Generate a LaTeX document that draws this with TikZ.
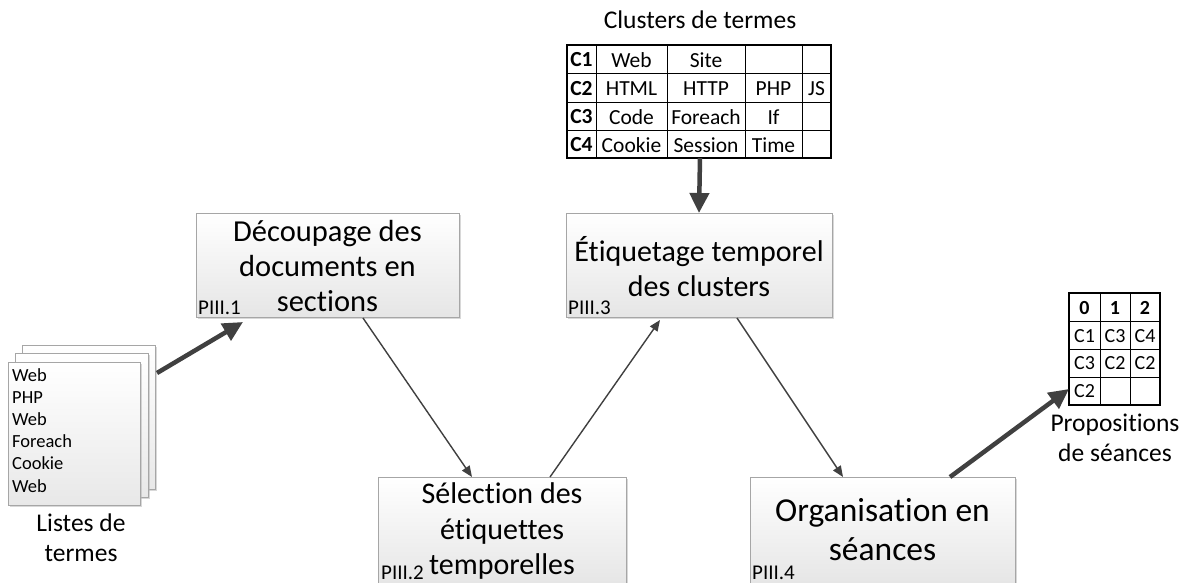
\documentclass[tikz,border=0pt]{standalone}
\usepackage{fontspec}
\setmainfont{Carlito}[RawFeature={-liga;-calt;-clig;-dlig}]
\usetikzlibrary{arrows.meta,shadows,calc}
\definecolor{arr}{HTML}{404040}
\definecolor{bord}{HTML}{A6A6A6}
\tikzset{
  procbox/.style={draw=bord, line width=1pt, top color=white, bottom color=black!10,
    drop shadow={shadow xshift=2pt, shadow yshift=-2pt, fill=black!30, opacity=0.5},
    inner sep=0pt, outer sep=0pt},
  page/.style={draw=bord, line width=0.8pt, top color=white, bottom color=black!9,
    drop shadow={shadow xshift=2pt, shadow yshift=-2pt, fill=black!30, opacity=0.5},
    inner sep=0pt, outer sep=0pt},
  pid/.style={font=\fontsize{21}{22}\selectfont, inner sep=0pt, anchor=base west},
  thick arrow/.style={draw=arr, fill=arr, line width=4.5pt, -{Triangle[length=20pt,width=19pt]}},
  thin arrow/.style={draw=arr, fill=arr, line width=1.4pt, -{Triangle[length=11pt,width=9pt]}},
  cell/.style={font=\fontsize{21.5}{22}\selectfont, inner sep=0pt},
  bcell/.style={font=\fontsize{21.5}{22}\selectfont\bfseries, inner sep=0pt},
  scell/.style={font=\fontsize{20}{22}\selectfont, inner sep=0pt},
  sbcell/.style={font=\fontsize{20}{22}\selectfont\bfseries, inner sep=0pt},
  caption/.style={font=\fontsize{25.5}{30}\selectfont, align=center, inner sep=0pt},
}
\begin{document}
\begin{tikzpicture}[x=1pt,y=-1pt]
\useasboundingbox (0,0) rectangle (1190,582);

% term lists
\node[page, minimum width=133pt, minimum height=144pt, anchor=north west] (pg3) at (22,345) {};
\node[page, minimum width=133pt, minimum height=144pt, anchor=north west] (pg2) at (15,353) {};
\node[page, minimum width=132pt, minimum height=143pt, anchor=north west] (pg1) at (8,362) {};
\node[anchor=north west, align=left, font=\fontsize{18.5}{22.2}\selectfont, inner sep=0pt] (terms) at (12,368)
  {Web\\PHP\\Web\\Foreach\\Cookie\\Web};
\node[caption] (listcap) at (81,538) {Listes de\\termes};

% process boxes
\node[procbox, minimum width=263pt, minimum height=104pt] (p1) at (327.5,265) {};
\node[align=center, font=\fontsize{30.5}{35}\selectfont, inner sep=0pt] (p1t) at (327.5,266) {Découpage des\\documents en\\sections};
\node[pid] (p1id) at (198,314) {PIII.1};

\node[procbox, minimum width=266pt, minimum height=104pt] (p3) at (699,265) {};
\node[align=center, font=\fontsize{30}{35}\selectfont, inner sep=0pt] (p3t) at (699,267) {Étiquetage temporel\\des clusters};
\node[pid] (p3id) at (568,314) {PIII.3};

\node[procbox, minimum width=248pt, minimum height=108pt] (p2) at (502,531) {};
\node[align=center, font=\fontsize{30}{35.5}\selectfont, inner sep=0pt] (p2t) at (502,531) {Sélection des\\étiquettes\\temporelles};
\node[pid] (p2id) at (381,579) {PIII.2};

\node[procbox, minimum width=265pt, minimum height=108pt] (p4) at (882.5,531) {};
\node[align=center, font=\fontsize{33.5}{39}\selectfont, inner sep=0pt] (p4t) at (882.5,530) {Organisation en\\séances};
\node[pid] (p4id) at (752,579) {PIII.4};

% cluster table
\node[caption] (clcap) at (700,20) {Clusters de termes};
\coordinate (ct1) at (567,45);
\coordinate (ct2) at (831,158);
\draw[line width=0.8pt] (596,45) -- (596,158) (667,45) -- (667,158) (745,45) -- (745,158) (802,45) -- (802,158);
\draw[line width=0.8pt] (567,73) -- (831,73) (567,102) -- (831,102) (567,130) -- (831,130);
\draw[line width=2pt] (ct1) rectangle (ct2);
\foreach \r/\y/\a/\b/\c/\d/\e in {1/60/C1/Web/Site//, 2/88.5/C2/HTML/HTTP/PHP/JS, 3/117/C3/Code/Foreach/If/, 4/145/C4/Cookie/Session/Time/}{
  \node[bcell] (c\r a) at (581.5,\y) {\a};
  \node[cell] (c\r b) at (631.5,\y) {\b};
  \node[cell] (c\r c) at (706,\y) {\c};
  \node[cell] (c\r d) at (773.5,\y) {\d};
  \node[cell] (c\r e) at (816.5,\y) {\e};
}
\coordinate (ctbot) at (700,158);

% sessions table
\draw[line width=0.8pt] (1100,293) -- (1100,405) (1130,293) -- (1130,405);
\draw[line width=0.8pt] (1069,321) -- (1160,321) (1069,349) -- (1160,349) (1069,377) -- (1160,377);
\draw[line width=2pt] (1069,293) rectangle (1160,405);
\coordinate (sesl) at (1069,389);
\node[sbcell] (s0) at (1084.5,308) {0};
\node[sbcell] (s1) at (1115,308) {1};
\node[sbcell] (s2) at (1145,308) {2};
\node[scell] (s10) at (1084.5,336) {C1};
\node[scell] (s11) at (1115,336) {C3};
\node[scell] (s12) at (1145,336) {C4};
\node[scell] (s20) at (1084.5,363) {C3};
\node[scell] (s21) at (1115,363) {C2};
\node[scell] (s22) at (1145,363) {C2};
\node[scell] (s30) at (1084.5,391) {C2};
\node[caption] (sescap) at (1115,438) {Propositions\\de séances};

% arrows
\draw[thick arrow] ($(pg3.north east)+(2,28)$) -- ($(p1.south west)+(47,5)$);
\draw[thick arrow] (ctbot) -- (p3.north);
\draw[thick arrow] ($(p4.north west)+(200,0)$) -- (sesl);
\draw[thin arrow] ($(p1.south west)+(167,1)$) -- ($(p2.north west)+(94,0)$);
\draw[thin arrow] ($(p2.north west)+(172,0)$) -- ($(p3.south west)+(94,3)$);
\draw[thin arrow] ($(p3.south west)+(171,1)$) -- ($(p4.north west)+(93,0)$);
\end{tikzpicture}
\end{document}
